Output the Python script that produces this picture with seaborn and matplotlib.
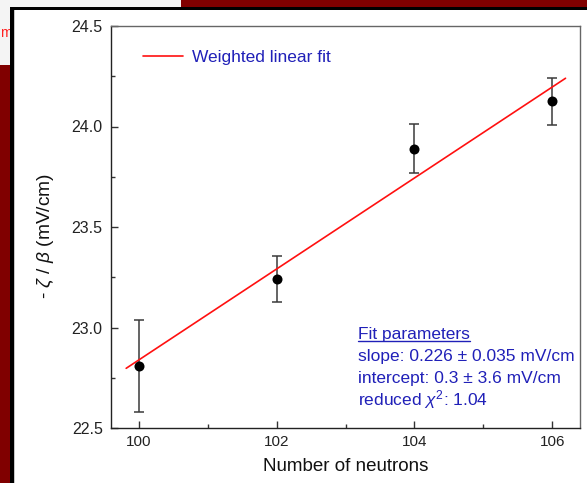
import matplotlib
matplotlib.use("Agg")
import matplotlib.pyplot as plt
from matplotlib.patches import Rectangle
from matplotlib.lines import Line2D
import seaborn as sns
import pandas as pd
from matplotlib.ticker import MultipleLocator

# ---- data ----
neutrons = [100, 102, 104, 106]
zeta_beta = [22.81, 23.24, 23.89, 24.125]
zeta_err = [0.228, 0.115, 0.12, 0.118]
fit_x = [99.82, 106.19]
fit_y = [22.797, 24.24]
fit_label = "Weighted linear fit"
fit_lines = ["slope: 0.226 \u00b1 0.035 mV/cm",
             "intercept: 0.3 \u00b1 3.6 mV/cm",
             r"reduced $\chi^2$: 1.04"]

sns.set_theme(style="ticks")
plt.rcParams["font.family"] = ["Liberation Sans", "DejaVu Sans"]
plt.rcParams["mathtext.fontset"] = "custom"
plt.rcParams["mathtext.it"] = "Liberation Sans:italic"
plt.rcParams["mathtext.rm"] = "Liberation Sans"

W, H = 587, 483
fig = plt.figure(figsize=(W / 100, H / 100), dpi=100)
fig.patch.set_facecolor("white")

def rect(x0, y0, x1, y1, color, z):
    fig.patches.append(Rectangle((x0 / W, 1 - y1 / H), (x1 - x0) / W, (y1 - y0) / H,
                                 transform=fig.transFigure, color=color, lw=0, zorder=z))

# slide background decorations
rect(0, 0, 181, 65, "#f4f4f4", -10)
rect(181, 0, W, 7, "#800000", -10)
rect(0, 65, 10, H, "#800000", -10)
rect(10, 7, W, 10, "#000000", -9)
rect(10, 7, 14, H, "#000000", -9)
rect(14, 10, 15, H, "#c8c8c8", -9)
rect(15, 10, W, H, "#ffffff", -9)
fig.text(0.5 / W, 1 - 33 / H, "m", color="#ff2020", fontsize=10, ha="left", va="center",
         zorder=-9.5)

ax = fig.add_axes([111 / W, 1 - 428 / H, (580 - 111) / W, (428 - 26) / H])
ax.set_zorder(1)
ax.set_facecolor("white")

df = pd.DataFrame({"n": neutrons, "v": zeta_beta, "e": zeta_err})
fitdf = pd.DataFrame({"x": fit_x, "y": fit_y})

ax.errorbar(df["n"], df["v"], yerr=df["e"], fmt="none", ecolor="#3a3a3a",
            elinewidth=1.1, capsize=3.6, capthick=1.1, zorder=2)
sns.lineplot(data=fitdf, x="x", y="y", color="#ff1010", lw=1.2, ax=ax,
             label=fit_label, zorder=3)
sns.scatterplot(data=df, x="n", y="v", color="black", s=52, edgecolor="black",
                linewidth=0, ax=ax, zorder=4)

ax.set_xlim(99.6, 106.4)
ax.set_ylim(22.5, 24.5)
ax.xaxis.set_minor_locator(MultipleLocator(1))
ax.yaxis.set_minor_locator(MultipleLocator(0.25))
ax.set_yticks([22.5, 23.0, 23.5, 24.0, 24.5])
ax.set_yticklabels(["22.5", "23.0", "23.5", "24.0", "24.5"])
ax.set_xticks(neutrons)
ax.set_xticklabels([str(n) for n in neutrons])

ax.tick_params(which="both", direction="in", color="#333333", width=1.0,
               top=False, right=False)
ax.tick_params(which="major", length=5)
ax.tick_params(which="minor", length=3)
ax.tick_params(axis="y", labelsize=11.5, pad=6, labelcolor="#222222")
ax.tick_params(axis="x", labelsize=11, pad=5, labelcolor="#222222")

for s in ["left", "bottom"]:
    ax.spines[s].set_color("#222222")
    ax.spines[s].set_linewidth(1.0)
for s in ["top", "right"]:
    ax.spines[s].set_visible(True)
    ax.spines[s].set_color("#666666")
    ax.spines[s].set_linewidth(1.0)

ax.set_xlabel("Number of neutrons", fontsize=13.5, color="#111111")
ax.set_ylabel(r"- $\zeta$ / $\beta$ (mV/cm)", fontsize=13.8, color="#111111")
ax.xaxis.set_label_coords(0.5, -0.075)
ax.yaxis.set_label_coords(-0.117, 0.478)

blue = "#2020b8"
leg = ax.legend(loc="center left", bbox_to_anchor=((143 - 111) / 469, (428 - 57) / 402),
                frameon=False, fontsize=12.5, handlelength=2.3, handletextpad=0.55,
                borderpad=0, borderaxespad=0, labelcolor=blue)

x0 = (358 - 111) / 469
title = ax.text(x0, (428 - 335) / 402, "Fit parameters", transform=ax.transAxes,
                fontsize=12.5, color=blue, ha="left", va="center")
ys = [357, 378, 400]
for txt, yy in zip(fit_lines, ys):
    ax.text(x0, (428 - yy) / 402, txt, transform=ax.transAxes, fontsize=12.5,
            color=blue, ha="left", va="center")

fig.canvas.draw()
bb = title.get_window_extent(renderer=fig.canvas.get_renderer())
yline = bb.y0 + 1.5
fig.add_artist(Line2D([bb.x0 / W, bb.x1 / W], [yline / H, yline / H],
                      transform=fig.transFigure, color=blue, lw=1.0, zorder=5))

fig.savefig("out.png", dpi=100)
